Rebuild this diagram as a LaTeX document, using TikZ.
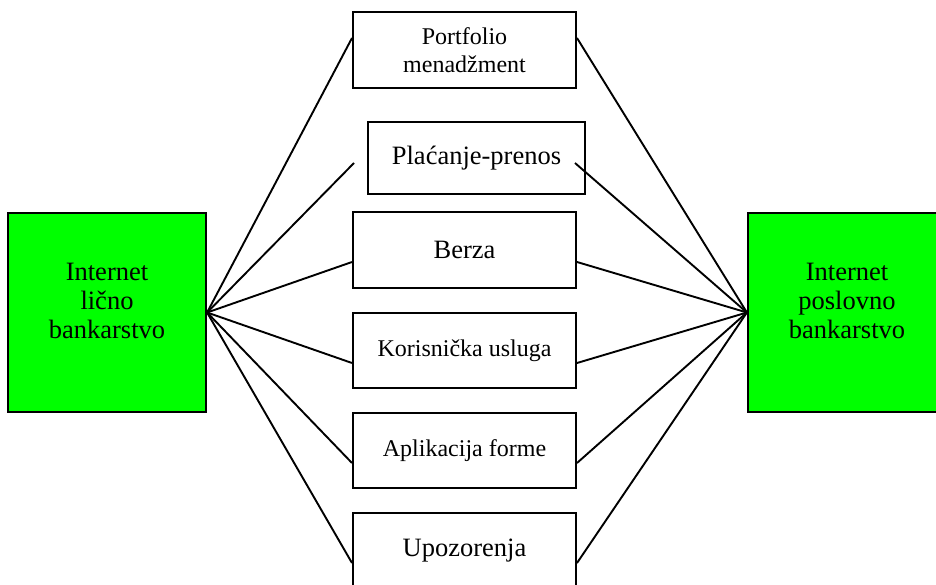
\documentclass[tikz,border=0pt]{standalone}
\usepackage{fontspec}
\setmainfont{Liberation Serif}
\definecolor{brightgreen}{RGB}{0,255,0}
\begin{document}
\begin{tikzpicture}[x=1pt,y=-1pt,
  mbox/.style={draw, line width=2pt, minimum width=223pt, minimum height=76pt,
    inner sep=0pt, align=center, font=\fontsize{26.5}{29}\selectfont},
  smallfont/.style={font=\fontsize{24}{28}\selectfont},
  gbox/.style={draw, line width=2.2pt, fill=brightgreen, minimum width=198pt,
    minimum height=199pt, inner sep=0pt},
  gtext/.style={inner sep=0pt, align=center, font=\fontsize{26.5}{29}\selectfont},
  link/.style={line width=1.9pt}]
\useasboundingbox (0,0) rectangle (936,585);
\clip (0,0) rectangle (936,585);
\fill[white] (0,0) rectangle (936,585);

% green end boxes
\node[gbox] (L) at (107,312.5) {};
\node[gtext] (Lt) at (107,300.5) {Internet\\lično\\bankarstvo};
\node[gbox] (R) at (847,312.5) {};
\node[gtext] (Rt) at (847,300.5) {Internet\\poslovno\\bankarstvo};

% middle boxes
\node[mbox,smallfont] (b1) at (464.5,50) {Portfolio\\menadžment};
\node[mbox,minimum width=217pt,minimum height=72pt] (b2) at (476.5,158) {Plaćanje-prenos};
\node[mbox] (b3) at (464.5,250) {Berza};
\node[mbox,smallfont,minimum height=75pt] (b4) at (464.5,350.5) {Korisnička usluga};
\node[mbox,smallfont,minimum height=75pt] (b5) at (464.5,450.5) {Aplikacija forme};
\node[mbox] (b6) at (464.5,551) {Upozorenja};

% free ends near box 2
\coordinate (c2l) at (354,163);
\coordinate (c2r) at (575,163);

% connectors from left box
\draw[link] (L.east) -- ([yshift=12pt]b1.west);
\draw[link] (L.east) -- (c2l);
\draw[link] (L.east) -- ([yshift=-12pt]b3.west);
\draw[link] (L.east) -- ([yshift=-12.5pt]b4.west);
\draw[link] (L.east) -- ([yshift=-12.5pt]b5.west);
\draw[link] (L.east) -- ([yshift=-12pt]b6.west);

% connectors to right box
\draw[link] (R.west) -- ([yshift=12pt]b1.east);
\draw[link] (R.west) -- (c2r);
\draw[link] (R.west) -- ([yshift=-12pt]b3.east);
\draw[link] (R.west) -- ([yshift=-12.5pt]b4.east);
\draw[link] (R.west) -- ([yshift=-12.5pt]b5.east);
\draw[link] (R.west) -- ([yshift=-12pt]b6.east);
\end{tikzpicture}
\end{document}
